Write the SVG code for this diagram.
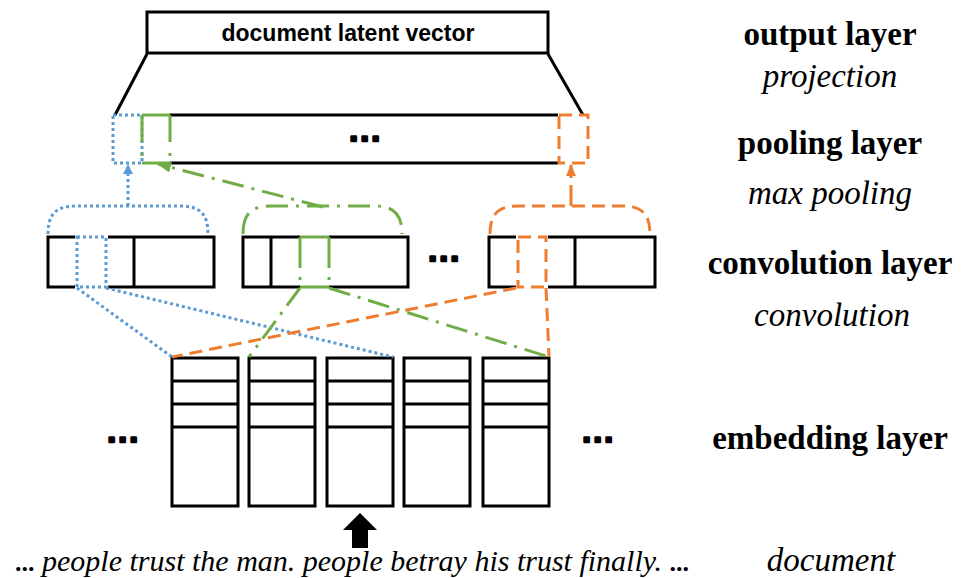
<svg xmlns="http://www.w3.org/2000/svg" width="968" height="578" viewBox="0 0 968 578">
  <defs>
    <marker id="head-blue" markerUnits="userSpaceOnUse" markerWidth="10" markerHeight="10" refX="9" refY="5" orient="auto">
      <path d="M0,0 L10,5 L0,10 z" fill="#5B9BD5"/>
    </marker>
    <marker id="head-orange" markerUnits="userSpaceOnUse" markerWidth="12" markerHeight="10" refX="11" refY="5" orient="auto">
      <path d="M0,0 L12,5 L0,10 z" fill="#ED7D31"/>
    </marker>
    <marker id="head-green" markerUnits="userSpaceOnUse" markerWidth="14" markerHeight="11" refX="13" refY="5.5" orient="auto">
      <path d="M0,0 L14,5.5 L0,11 z" fill="#70AD47"/>
    </marker>
  </defs>
  <style>
    .box{fill:none;stroke:#000;stroke-width:3}
    .wbox{fill:#fff;stroke:#000;stroke-width:3}
    .erase{fill:none;stroke:#fff;stroke-width:4}
    .blue{fill:none;stroke:#5B9BD5;stroke-width:3;stroke-dasharray:3 3}
    .orange{fill:none;stroke:#ED7D31;stroke-width:3;stroke-dasharray:13 7}
    .green{fill:none;stroke:#70AD47;stroke-width:3;stroke-dasharray:22 8 3 8}
    .gsolid{fill:none;stroke:#70AD47;stroke-width:3}
    .lbl{font-family:"Liberation Serif","Times New Roman",serif;font-size:33px;text-anchor:middle;fill:#000}
    .b{font-weight:bold}
    .i{font-style:italic}
    .dots{font-family:"Liberation Sans",Arial,sans-serif;font-weight:bold;font-size:30px;letter-spacing:2.7px;text-anchor:middle;fill:#000;stroke:#000;stroke-width:2.6;stroke-linejoin:round}
    .title{font-family:"Liberation Sans",Arial,sans-serif;font-weight:bold;font-size:23px;text-anchor:middle;fill:#000}
  </style>

  <!-- output layer: projection box and its fan-out to the pooling bar -->
  <g id="output-vector">
    <path class="box" d="M147,54 L115,115 M548,54 L583,115"/>
    <rect class="wbox" x="147" y="12" width="401" height="41"/>
    <text class="title" x="348" y="41">document latent vector</text>
  </g>

  <!-- pooling layer bar -->
  <g id="pooling-bar">
    <path class="box" d="M170,115 H558 M170,163 H558"/>
    <text class="dots" x="366" y="141">...</text>
    <rect class="blue" x="113" y="115" width="29" height="48"/>
    <path class="gsolid" d="M142,115 H170 M142,163 H170"/>
    <path class="green" style="stroke-dasharray:27 11 3 7" d="M142,115 V163 M170,115 V163"/>
    <rect class="orange" x="559" y="115" width="29" height="48"/>
  </g>

  <!-- convolution layer feature maps -->
  <g id="conv-map-1">
    <rect class="box" x="48" y="237" width="166" height="50"/>
    <path class="box" d="M134,237 V287"/>
    <rect class="erase" x="77" y="237" width="29" height="50"/>
    <rect class="blue" x="77" y="237" width="29" height="50"/>
  </g>
  <g id="conv-map-2">
    <rect class="box" x="243" y="237" width="165" height="50"/>
    <path class="box" d="M271,237 V287"/>
    <path class="erase" d="M300,237 H329 M300,287 H329"/>
    <path class="gsolid" d="M300,237 H329 M300,287 H329"/>
    <path class="green" style="stroke-dasharray:31 9 3 7" d="M300,237 V287 M329,237 V287"/>
  </g>
  <text class="dots" x="445" y="261">...</text>
  <g id="conv-map-3">
    <rect class="box" x="489" y="237" width="166" height="50"/>
    <path class="box" d="M575,237 V287"/>
    <rect class="erase" x="518" y="237" width="28" height="50"/>
    <rect class="orange" x="518" y="237" width="28" height="50"/>
  </g>

  <!-- embedding layer: one column per word -->
  <g id="embedding">
    <text class="dots" x="124" y="442">...</text>
    <g id="emb-1">
      <rect class="box" x="172" y="358" width="66" height="148"/>
      <path class="box" d="M172,381 H238 M172,404 H238 M172,427 H238"/>
    </g>
    <g id="emb-2">
      <rect class="box" x="249" y="358" width="66" height="148"/>
      <path class="box" d="M249,381 H315 M249,404 H315 M249,427 H315"/>
    </g>
    <g id="emb-3">
      <rect class="box" x="327" y="358" width="66" height="148"/>
      <path class="box" d="M327,381 H393 M327,404 H393 M327,427 H393"/>
    </g>
    <g id="emb-4">
      <rect class="box" x="404" y="358" width="66" height="148"/>
      <path class="box" d="M404,381 H470 M404,404 H470 M404,427 H470"/>
    </g>
    <g id="emb-5">
      <rect class="box" x="483" y="358" width="66" height="148"/>
      <path class="box" d="M483,381 H549 M483,404 H549 M483,427 H549"/>
    </g>
    <text class="dots" x="599" y="442">...</text>
  </g>

  <!-- connectors: receptive fields, max-pooling braces and arrows -->
  <g id="connectors">
    <path class="blue" d="M77,288 L172,357 M106,288 L393,357"/>
    <path class="green" d="M300,288 L249,357 M329,288 L549,357"/>
    <path class="orange" d="M516,288 L172,357 M546,288 L549,357"/>

    <path class="blue" d="M48,234 C48,214 56,206 76,206 H180 C200,206 208,214 208,234"/>
    <path class="green" d="M243,234 C243,214 251,206 271,206 H374 C394,206 402,214 402,234"/>
    <path class="orange" d="M490,234 C490,214 498,206 518,206 H622 C642,206 650,214 650,234"/>

    <path class="blue" marker-end="url(#head-blue)" d="M128,206 V165"/>
    <path class="orange" style="stroke-dasharray:none" d="M571,206 V198"/>
    <path class="orange" marker-end="url(#head-orange)" d="M571,198 V165"/>
    <path class="green" marker-end="url(#head-green)" d="M323,207 L158,164"/>
  </g>

  <!-- input arrow and document text -->
  <g id="input">
    <polygon points="360,513 343,530 352,530 352,548 368,548 368,530 377,530" fill="#000"/>
    <text class="lbl i" style="font-size:30px;text-anchor:start" x="15" y="571"><tspan style="font-weight:bold;font-style:normal;font-size:26px">...</tspan> people trust the man. people betray his trust finally. <tspan style="font-weight:bold;font-style:normal;font-size:26px">...</tspan></text>
  </g>

  <!-- layer captions -->
  <g id="captions">
    <text class="lbl b" x="830" y="45">output layer</text>
    <text class="lbl i" x="830" y="87">projection</text>
    <text class="lbl b" x="830" y="154">pooling layer</text>
    <text class="lbl i" x="830" y="204">max pooling</text>
    <text class="lbl b" x="830" y="274">convolution layer</text>
    <text class="lbl i" x="832" y="326">convolution</text>
    <text class="lbl b" x="830" y="449">embedding layer</text>
    <text class="lbl i" x="831" y="571">document</text>
  </g>
</svg>
